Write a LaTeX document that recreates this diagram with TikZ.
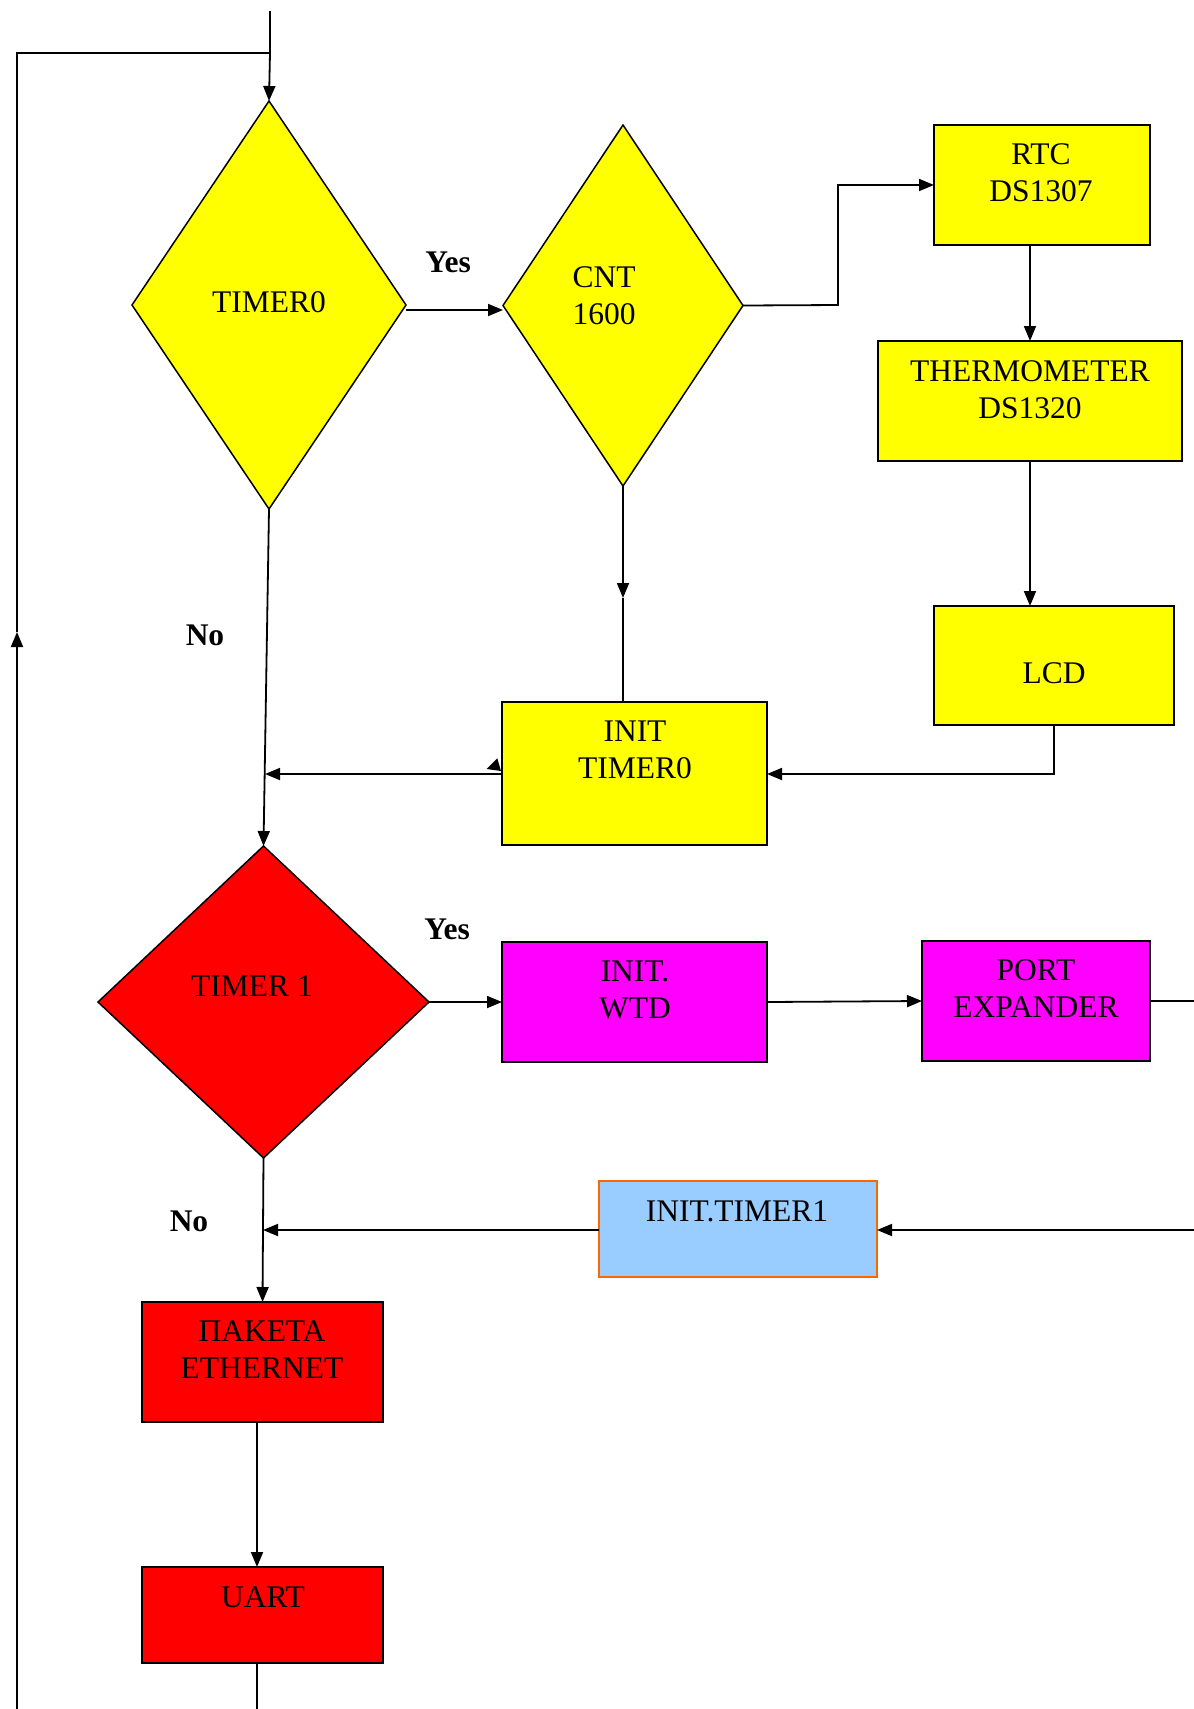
\documentclass[tikz,border=0pt]{standalone}
\usepackage{fontspec}
\setmainfont{Liberation Serif}
\usetikzlibrary{shapes.geometric,arrows.meta}
\definecolor{yel}{RGB}{255,255,0}
\definecolor{rd}{RGB}{255,0,0}
\definecolor{mag}{RGB}{255,0,255}
\definecolor{sky}{RGB}{153,204,255}
\definecolor{orng}{RGB}{255,102,0}
\tikzset{
  box/.style={draw=black, line width=1.8pt, rectangle, inner sep=0, outer sep=0},
  dia/.style={draw=black, line width=1.5pt, diamond, inner sep=0, outer sep=0},
  txt/.style={font=\fontsize{31.5}{37}\selectfont, align=center, inner sep=0},
  lbl/.style={font=\fontsize{31.5}{37}\selectfont\bfseries, inner sep=0},
  wire/.style={line width=1.8pt},
  arr/.style={wire, -{Triangle[length=15pt, width=12pt]}}
}
\begin{document}
\begin{tikzpicture}[x=1pt, y=-1pt]
\useasboundingbox (0,0) rectangle (1194,1709);

% decision diamonds
\node[dia, fill=yel, minimum width=274pt, minimum height=408pt] (t0) at (269,305) {};
\node[txt] at (269,302) {TIMER0};
\node[dia, fill=yel, minimum width=240pt, minimum height=361pt] (cnt) at (623,305.5) {};
\node[txt] at (604,296) {CNT\\1600};
\node[dia, fill=rd, minimum width=331pt, minimum height=312pt] (t1) at (263.5,1002) {};
\node[txt] at (252,986) {TIMER 1};

% process boxes
\node[box, fill=yel, minimum width=216pt, minimum height=120pt] (rtc) at (1042,185) {};
\node[txt] at (1041,173) {RTC\\DS1307};
\node[box, fill=yel, minimum width=304pt, minimum height=120pt] (thm) at (1030,401) {};
\node[txt] at (1030,390) {THERMOMETER\\DS1320};
\node[box, fill=yel, minimum width=240pt, minimum height=119pt] (lcd) at (1054,665.5) {};
\node[txt] at (1054,673) {LCD};
\node[box, fill=yel, minimum width=265pt, minimum height=143pt] (it0) at (634.5,773.5) {};
\node[txt] at (635,750) {INIT\\TIMER0};
\node[box, fill=mag, minimum width=265pt, minimum height=120pt] (wtd) at (634.5,1002) {};
\node[txt] at (635,990) {INIT.\\WTD};
\node[box, fill=mag, minimum width=228pt, minimum height=120pt] (pex) at (1036,1001) {};
\node[txt] at (1036,989) {PORT\\EXPANDER};
\node[box, draw=orng, fill=sky, minimum width=278pt, minimum height=96pt] (it1) at (738,1229) {};
\node[txt] at (737,1211) {INIT.TIMER1};
\node[box, fill=rd, minimum width=241pt, minimum height=120pt] (eth) at (262.5,1362) {};
\node[txt] at (262,1350) {ΠΑΚΕΤΑ\\ETHERNET};
\node[box, fill=rd, minimum width=241pt, minimum height=96pt] (uart) at (262.5,1615) {};
\node[txt] at (263,1597) {UART};

% labels
\node[lbl] (yes1) at (448,262) {Yes};
\node[lbl] (no1) at (205,635) {No};
\node[lbl] (yes2) at (447,929) {Yes};
\node[lbl] (no2) at (189,1221) {No};

% free ends and bends
\coordinate (in) at (270,11);
\coordinate (split) at (270,53);
\coordinate (lt) at (17,53);
\coordinate (lup) at (17,632);
\coordinate (lbot) at (17,1709);
\coordinate (c1) at (838,305);
\coordinate (c2) at (838,185);
\coordinate (l1) at (1054,774);
\coordinate (j1) at (265,774);
\coordinate (cm) at (623,598);
\coordinate (pr) at (1194,1001);
\coordinate (rr) at (1194,1230);
\coordinate (j2) at (263,1230);
\coordinate (ub) at (257,1709);

% connectors
\draw[wire] (in) -- (split);
\draw[arr] (split) -- (t0.north);
\draw[wire] (split) -- (lt) -- (lup);
\draw[arr] (lbot) -- (lup);
\draw[arr] (t0.east |- 0,310) -- (cnt.west |- 0,310);
\draw[arr] (cnt.east) -- (c1) -- (c2) -- (rtc.west |- c2);
\draw[arr] (rtc.south -| thm.north) -- (thm.north);
\draw[arr] (thm.south) -- (lcd.north -| thm.south);
\draw[arr] (lcd.south) -- (l1) -- (it0.east |- l1);
\draw[arr] (cnt.south) -- (cm);
\draw[wire] (cm) -- (it0.north -| cm);
\draw[arr] (it0.west |- l1) -- (j1);
\fill (486.7,769) -- (497.3,758.3) -- (501,771) -- cycle;
\draw[arr] (t0.south) -- (t1.north);
\draw[arr] (t1.east) -- (wtd.west);
\draw[arr] (wtd.east) -- (pex.west);
\draw[wire] (pex.east) -- (pr);
\draw[arr] (rr) -- (it1.east |- rr);
\draw[arr] (it1.west |- rr) -- (j2);
\draw[arr] (t1.south) -- (eth.north);
\draw[arr] (eth.south -| ub) -- (uart.north -| ub);
\draw[wire] (uart.south -| ub) -- (ub);
\end{tikzpicture}
\end{document}
